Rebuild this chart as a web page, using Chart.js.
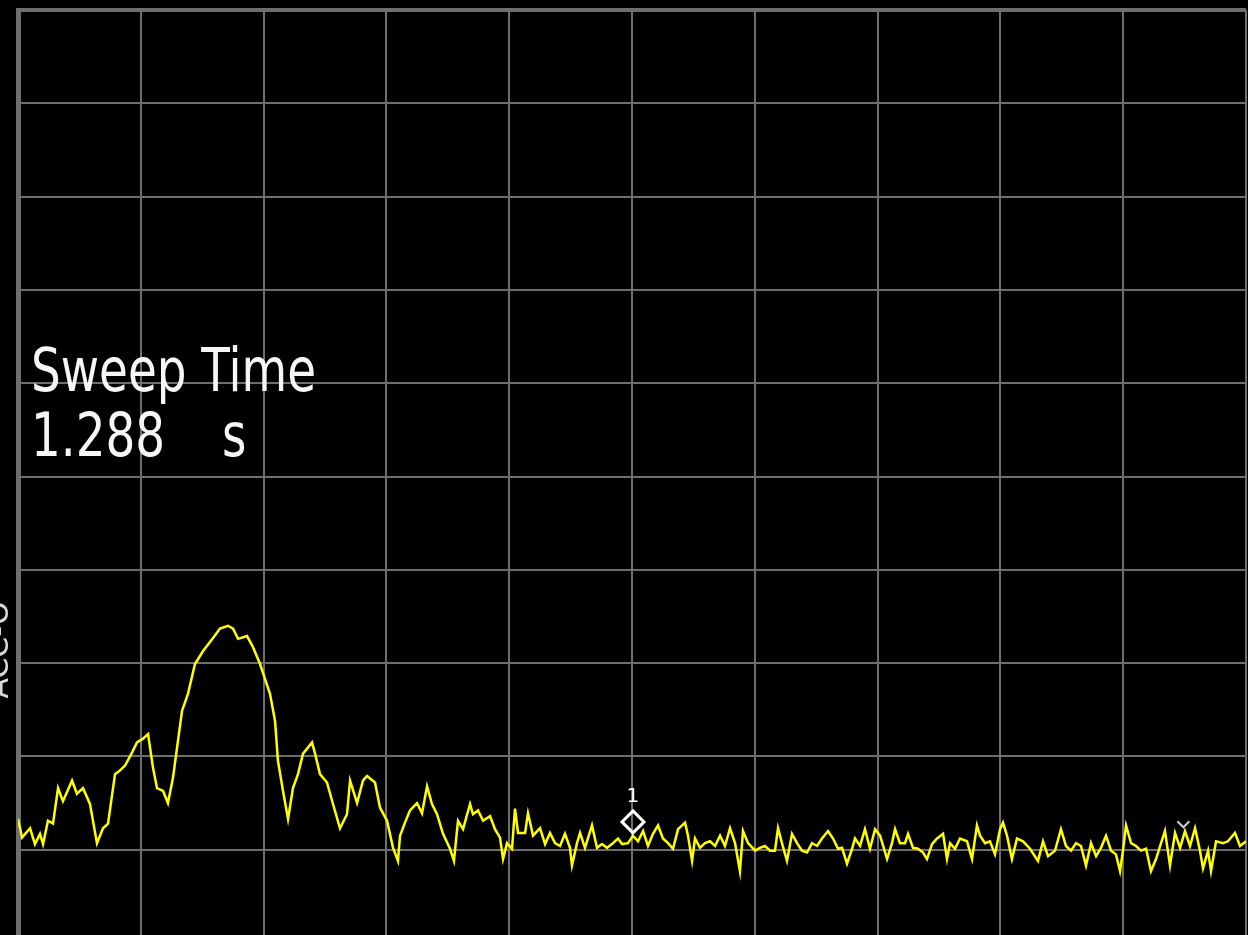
<!DOCTYPE html>
<html>
<head>
<meta charset="utf-8">
<title>Spectrum trace</title>
<script src="https://cdn.jsdelivr.net/npm/chart.js@4.4.1/dist/chart.umd.min.js"></script>
<style>
  html, body { margin: 0; padding: 0; background: #000; overflow: hidden; }
  canvas { display: block; }
</style>
</head>
<body>
<canvas id="trace" width="1248" height="950"></canvas>
<script>
// trace samples: position in % of span, level in dBm (10 dB/div, top = 0 dBm)
const freqPct = [
  0, 0.33, 0.98, 1.38, 1.79, 2.04, 2.44, 2.85, 3.26, 3.66,
  4.40, 4.80, 5.29, 5.86, 6.43, 6.92, 7.33, 7.90, 8.31, 8.71,
  9.28, 9.69, 10.18, 10.59, 10.99, 11.32, 11.81, 12.21, 12.62, 13.03,
  13.36, 13.84, 14.41, 15.07, 15.88, 16.45, 17.10, 17.51, 17.92, 18.65,
  19.14, 19.71, 20.11, 20.52, 20.93, 21.17, 21.58, 21.99, 22.39, 22.80,
  23.21, 23.94, 24.19, 24.59, 25.16, 25.65, 26.22, 26.79, 27.04, 27.61,
  28.09, 28.42, 29.07, 29.48, 30.05, 30.54, 30.94, 31.11, 31.51, 31.92,
  32.49, 32.90, 33.31, 33.71, 34.12, 34.61, 35.18, 35.50, 35.83, 36.24,
  36.81, 37.05, 37.46, 37.87, 38.44, 38.84, 39.25, 39.50, 39.82, 40.23,
  40.47, 40.72, 41.29, 41.53, 41.94, 42.51, 42.92, 43.32, 43.73, 44.14,
  44.54, 44.95, 45.11, 45.52, 45.77, 46.17, 46.74, 47.15, 47.56, 47.96,
  48.45, 48.86, 49.19, 49.67, 50.08, 50.49, 50.90, 51.30, 51.71, 52.12,
  52.52, 52.93, 53.34, 53.75, 54.32, 54.56, 54.89, 55.13, 55.54, 55.94,
  56.35, 56.76, 57.17, 57.57, 57.98, 58.39, 58.79, 59.04, 59.45, 60.02,
  60.42, 60.83, 61.24, 61.64, 61.89, 62.21, 62.62, 63.03, 63.44, 63.84,
  64.25, 64.66, 65.07, 65.47, 65.96, 66.37, 66.78, 67.10, 67.51, 67.92,
  68.16, 68.57, 68.97, 69.38, 69.79, 70.20, 70.77, 71.17, 71.42, 71.82,
  72.23, 72.48, 72.88, 73.29, 73.70, 74.02, 74.43, 74.84, 75.33, 75.65,
  75.90, 76.30, 76.71, 77.28, 77.69, 78.09, 78.34, 78.75, 79.15, 79.56,
  79.97, 80.21, 80.54, 80.94, 81.35, 81.84, 82.41, 83.06, 83.47, 83.88,
  84.45, 84.93, 85.34, 85.75, 86.16, 86.56, 86.97, 87.38, 87.79, 88.19,
  88.60, 89.01, 89.41, 89.74, 89.98, 90.23, 90.64, 91.04, 91.45, 91.86,
  92.26, 92.67, 93.08, 93.40, 93.81, 94.22, 94.63, 95.03, 95.44, 95.85,
  96.25, 96.50, 96.91, 97.15, 97.56, 98.13, 98.53, 99.10, 99.51, 100
];
const traceDbm = [
  -86.7, -88.7, -87.7, -89.4, -88.3, -89.4, -86.9, -87.2, -83.4, -84.8,
  -82.6, -84.0, -83.4, -85.1, -89.3, -87.7, -87.2, -81.9, -81.5, -81.0,
  -79.6, -78.5, -78.1, -77.6, -81.2, -83.4, -83.7, -85.0, -82.3, -78.3,
  -75.1, -73.3, -70.1, -68.7, -67.3, -66.3, -66.0, -66.3, -67.4, -67.1,
  -68.3, -70.1, -71.7, -73.3, -76.2, -80.5, -83.7, -86.7, -83.4, -81.9,
  -79.7, -78.5, -79.7, -81.9, -82.8, -85.1, -87.7, -86.2, -82.6, -85.0,
  -82.6, -82.1, -82.8, -85.5, -86.9, -89.8, -91.2, -88.5, -87.1, -85.8,
  -85.0, -86.1, -83.2, -85.1, -86.2, -88.3, -89.9, -91.2, -86.9, -87.8,
  -85.1, -86.2, -85.8, -86.9, -86.4, -87.8, -88.7, -91.0, -89.3, -89.9,
  -85.6, -88.2, -88.2, -86.1, -88.5, -87.7, -89.4, -88.2, -89.3, -89.6,
  -88.3, -89.8, -91.7, -89.3, -88.2, -89.8, -87.4, -89.8, -89.4, -89.8,
  -89.3, -88.8, -89.4, -89.3, -88.5, -89.1, -88.0, -89.6, -88.3, -87.4,
  -88.8, -89.3, -89.9, -87.8, -87.1, -88.5, -91.2, -88.8, -89.8, -89.3,
  -89.1, -89.6, -88.5, -89.6, -87.7, -89.3, -92.3, -88.0, -89.3, -90.1,
  -89.8, -89.6, -90.1, -90.1, -87.7, -89.3, -91.2, -88.3, -89.3, -90.1,
  -90.3, -89.3, -89.6, -88.8, -88.0, -88.8, -89.9, -89.8, -91.5, -89.9,
  -88.8, -89.6, -87.8, -89.9, -87.8, -88.5, -91.0, -89.3, -87.8, -89.3,
  -89.3, -88.3, -89.8, -89.9, -90.3, -91.0, -89.4, -88.8, -88.3, -91.0,
  -89.3, -89.9, -88.8, -89.1, -91.0, -87.4, -88.5, -89.3, -89.1, -90.5,
  -87.8, -87.1, -88.5, -91.0, -88.8, -89.1, -89.9, -91.2, -89.1, -90.7,
  -90.1, -87.8, -89.6, -90.1, -89.3, -89.6, -91.7, -89.3, -90.7, -89.8,
  -88.5, -90.1, -90.5, -92.3, -90.1, -87.4, -89.3, -89.6, -90.1, -89.9,
  -92.3, -91.0, -89.3, -88.0, -91.7, -88.2, -89.8, -88.0, -89.6, -87.7,
  -90.1, -92.0, -90.1, -92.3, -89.1, -89.3, -89.1, -88.2, -89.6, -89.1
];

// marker 1 (diamond) and the small peak chevron
const markerPct = [50.08];
const markerDbm = [-88.2];
const markerNames = ['1'];
const peakPct = [94.9];
const peakDbm = [-87.6];

// annotation text
const sweepTitle = 'Sweep Time';
const sweepValue = '1.288';
const sweepUnit = 's';
const sideLabel = 'ACC-O';

const gridColor = '#6e6e6e';

const overlay = {
  id: 'overlay',
  afterDraw(chart) {
    const { ctx, scales: { x, y } } = chart;
    ctx.save();

    // sweep time readout, narrow instrument font
    ctx.fillStyle = '#f6f6f6';
    ctx.font = '60px "DejaVu Sans"';
    ctx.textBaseline = 'alphabetic';
    const sx = 285 / ctx.measureText(sweepTitle).width;
    const put = (txt, px, py) => {
      ctx.save();
      ctx.translate(px, py);
      ctx.scale(sx, 1);
      ctx.fillText(txt, 0, 0);
      ctx.restore();
    };
    put(sweepTitle, 31, 391);
    put(sweepValue, 31, 456);
    put(sweepUnit, 222, 456);

    // markers
    ctx.strokeStyle = '#ffffff';
    ctx.fillStyle = '#ffffff';
    ctx.lineWidth = 3;
    markerPct.forEach((m, i) => {
      const cx = x.getPixelForValue(m);
      const by = y.getPixelForValue(markerDbm[i]);
      ctx.beginPath();
      ctx.moveTo(cx, by);
      ctx.lineTo(cx + 11, by - 11);
      ctx.lineTo(cx, by - 22);
      ctx.lineTo(cx - 11, by - 11);
      ctx.closePath();
      ctx.stroke();
      ctx.font = '20px "DejaVu Sans"';
      ctx.textAlign = 'center';
      ctx.fillText(markerNames[i], cx, by - 31);
    });

    ctx.strokeStyle = '#cfcfcf';
    ctx.lineWidth = 2;
    peakPct.forEach((p, i) => {
      const cx = x.getPixelForValue(p);
      const by = y.getPixelForValue(peakDbm[i]);
      ctx.beginPath();
      ctx.moveTo(cx - 6, by - 6);
      ctx.lineTo(cx, by);
      ctx.lineTo(cx + 6, by - 6);
      ctx.stroke();
    });

    // clipped side label on the left edge, only its lower edge shows
    ctx.fillStyle = '#d8d8d8';
    ctx.font = '30px "DejaVu Sans"';
    ctx.textAlign = 'center';
    ctx.translate(8, 650);
    ctx.rotate(-Math.PI / 2);
    ctx.fillText(sideLabel, 0, 0);

    ctx.restore();
  }
};

new Chart(document.getElementById('trace'), {
  type: 'line',
  data: {
    datasets: [{
      data: freqPct.map((f, i) => ({ x: f, y: traceDbm[i] })),
      borderColor: '#ffff00',
      borderWidth: 2.5,
      pointRadius: 0,
      tension: 0
    }]
  },
  options: {
    responsive: false,
    animation: false,
    layout: { padding: { left: 18, top: 10, right: 2, bottom: 7 } },
    plugins: { legend: { display: false }, tooltip: { enabled: false } },
    scales: {
      x: {
        type: 'linear', min: 0, max: 100,
        ticks: { display: false, stepSize: 10 },
        grid: { color: gridColor, lineWidth: 2, drawTicks: false },
        border: { display: false },
        afterFit: s => { s.height = 0; }
      },
      y: {
        min: -100, max: 0,
        ticks: { display: false, stepSize: 10 },
        grid: {
          color: gridColor,
          lineWidth: c => (c.tick && c.tick.value === 0 ? 4 : 2),
          drawTicks: false
        },
        border: { display: true, color: gridColor, width: 5 },
        afterFit: s => { s.width = 0; }
      }
    }
  },
  plugins: [overlay]
});
</script>
</body>
</html>
